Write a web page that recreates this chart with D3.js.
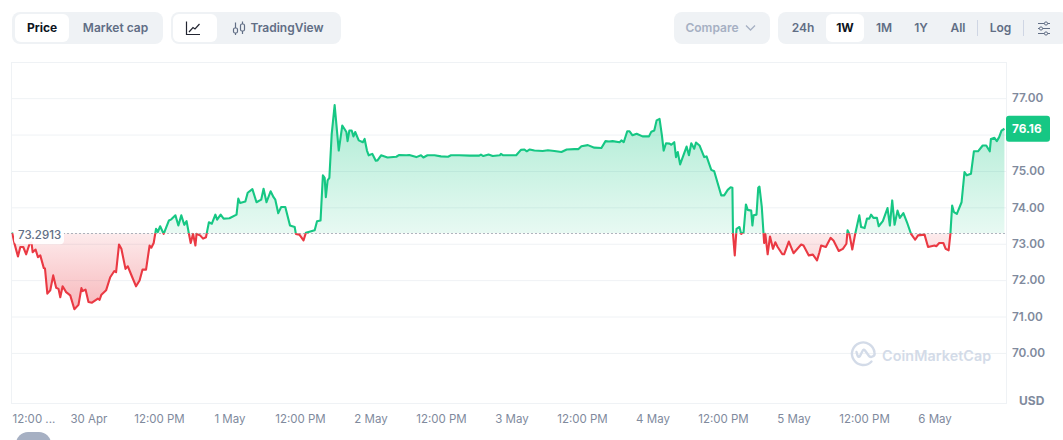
<!DOCTYPE html>
<html>
<head>
<meta charset="utf-8">
<style>
  html, body { margin: 0; padding: 0; background: #fff; overflow: hidden; }
  svg { display: block; font-family: Inter, "Noto Sans", sans-serif; }
</style>
<script src="https://cdn.jsdelivr.net/npm/d3@7/dist/d3.min.js"></script>
</head>
<body>
<script>
// Price history: hours relative to 30 Apr 00:00, and the price in USD at that hour.
const hours = [
  -13.0,-12.6,-12.0,-11.6,-11.1,-10.6,-10.0,-9.7,-9.5,-9.0,-8.6,-8.2,-7.6,-7.4,-7.0,-6.5,-6.0,-5.5,-5.1,-4.8,
  -4.4,-3.8,-3.1,-2.4,-1.7,-1.2,-1.0,-0.5,0,0.6,1.6,1.9,2.2,3.0,3.7,4.4,4.7,5.2,5.6,6.3,
  6.7,7.4,8.1,8.7,9.2,9.8,10.4,10.7,11.1,11.5,11.8,12.2,12.8,13.7,14.1,14.8,15.3,15.8,16.3,16.7,
  17.1,17.4,17.8,18.2,18.4,19.0,19.5,20.0,20.5,21.0,21.6,21.9,22.5,23.0,24.0,25.2,25.5,25.8,26.7,27.1,
  27.9,28.6,29.4,29.8,30.3,31.0,31.5,31.8,32.3,32.8,33.5,34.3,35.1,35.3,35.9,36.6,37.0,38.5,38.9,39.5,
  39.9,40.2,40.4,40.7,41.0,41.4,41.9,42.6,43.2,43.9,44.1,44.4,44.8,45.1,45.4,46.0,46.7,47.0,47.4,47.7,
  48.3,48.9,49.2,49.8,50.9,52.4,52.9,54.1,54.6,55.8,56.6,57.0,57.7,58.9,60.0,61.2,61.7,63.1,64.9,66.5,
  66.8,67.2,68.1,68.8,70.0,70.2,70.6,72.8,73.6,74.2,74.6,75.1,75.9,77.3,78.2,79.3,80.5,81.4,82.7,83.4,
  83.9,85.0,86.1,87.3,88.0,88.6,89.2,90.4,90.7,91.1,91.7,92.1,92.6,93.3,94.3,95.4,95.8,96.3,96.7,97.2,
  97.6,97.9,98.3,98.9,99.2,99.7,100.0,100.3,100.7,101.8,102.2,102.6,103.1,103.4,104.0,104.8,105.2,106.0,106.5,107.7,
  108.2,108.8,109.3,109.6,109.7,110.0,110.3,110.8,111.1,111.5,111.9,112.2,112.8,113.0,113.2,113.7,114.0,114.2,114.6,114.9,
  115.0,115.2,115.6,116.0,116.5,116.9,117.3,118.1,118.4,119.2,120.0,121.3,121.7,122.6,123.3,124.0,124.4,124.7,125.5,126.3,
  126.8,127.7,128.4,129.0,129.2,129.5,130.0,130.5,131.2,131.5,132.1,132.5,132.9,133.2,133.6,134.2,134.5,135.2,136.0,136.4,
  136.8,137.2,137.7,138.1,138.7,139.4,140.0,140.7,141.2,142.3,142.9,144.0,144.3,144.8,145.5,145.9,146.4,146.7,147.0,147.3,
  147.8,148.6,149.1,149.5,150.2,150.7,151.4,152.2,152.8,153.4,153.6,154.2,154.6,155.0,155.4,155.9
];
const prices = [
  73.31,73.01,72.65,72.91,72.91,72.71,73.01,73.04,72.77,72.84,72.63,72.68,72.33,72.32,71.63,71.72,72.13,71.79,71.76,71.53,
  71.83,71.67,71.58,71.20,71.32,71.78,71.70,71.74,71.40,71.38,71.49,71.46,71.60,71.72,72.08,72.25,72.22,72.98,72.86,72.31,
  72.38,72.10,71.83,71.99,72.29,72.29,72.95,72.89,73.02,73.41,73.32,73.48,73.27,73.64,73.67,73.78,73.50,73.78,73.52,73.62,
  73.27,73.02,73.27,72.95,73.27,73.23,73.14,73.18,73.59,73.55,73.80,73.66,73.80,73.69,73.70,73.80,74.24,74.12,74.16,74.40,
  74.50,74.14,74.21,74.51,74.14,74.44,74.28,74.21,73.84,74.01,74.01,73.50,73.46,73.27,73.25,73.09,73.30,73.37,73.62,73.64,
  74.88,74.81,74.28,74.74,74.81,76.02,76.81,75.56,76.25,76.07,75.82,76.11,76.11,75.95,76.07,75.84,75.79,75.88,75.56,75.43,
  75.47,75.28,75.29,75.43,75.37,75.39,75.44,75.43,75.44,75.38,75.43,75.37,75.43,75.43,75.40,75.39,75.43,75.43,75.42,75.42,
  75.45,75.41,75.45,75.41,75.43,75.47,75.43,75.43,75.58,75.59,75.54,75.59,75.56,75.55,75.57,75.55,75.52,75.59,75.60,75.60,
  75.68,75.71,75.64,75.63,75.82,75.81,75.82,75.79,75.84,75.79,76.09,76.09,75.98,76.02,75.95,75.95,76.08,76.11,76.39,76.43,
  75.98,75.56,75.76,75.75,75.72,75.79,75.38,75.52,75.18,75.67,75.43,75.76,75.61,75.78,75.70,75.38,75.40,75.03,74.99,74.33,
  74.33,74.48,74.55,74.54,73.27,72.68,73.41,73.46,73.27,73.32,74.08,73.93,73.91,73.50,73.78,73.80,74.54,74.57,74.01,73.27,
  73.02,73.27,72.71,73.20,72.86,73.04,72.91,72.71,72.71,73.06,72.74,72.98,72.95,72.68,72.70,72.54,72.76,72.95,72.91,73.16,
  73.09,72.80,72.86,73.00,73.37,73.27,72.84,73.27,73.78,73.46,73.43,73.69,73.69,73.80,73.71,73.71,73.48,73.62,73.98,73.50,
  74.19,73.52,73.91,73.71,73.84,73.55,73.27,73.11,73.23,73.25,72.91,72.95,72.93,73.02,73.02,72.86,72.82,73.27,74.05,73.87,
  73.82,74.14,74.97,74.88,74.92,75.54,75.54,75.70,75.70,75.54,75.88,75.91,75.82,75.93,76.11,76.16
];
const basePrice = 73.2913;
const lastPrice = 76.16;
const gridTicks = [70, 71, 72, 73, 74, 75, 76, 77];
const labelledTicks = [70, 71, 72, 73, 74, 75, 77]; // 76.00 sits behind the latest price tag
const timeTickHours = [-12, 0, 12, 24, 36, 48, 60, 72, 84, 96, 108, 120, 132, 144];
const rangeButtons = ["24h", "1W", "1M", "1Y", "All"];

const W = 1063, H = 440;
const plot = { left: 11.5, right: 1006.5, top: 62.5, bottom: 403.5 };
const GREEN = "#16c784", RED = "#ea3943";
const origin = new Date(2024, 3, 30, 0, 0, 0);
const at = h => new Date(origin.getTime() + h * 3600e3);

const x = d3.scaleTime().domain([at(-13.1), at(156.25)]).range([plot.left, plot.right]);
const y = d3.scaleLinear().domain([68.61, 77.98]).range([plot.bottom, plot.top]);
const points = hours.map((h, i) => ({ t: at(h), v: prices[i] }));

const svg = d3.select("body").append("svg").attr("width", W).attr("height", H);
const defs = svg.append("defs");

// Fills fade toward the opening price, above it in green and below it in red.
const greenGrad = defs.append("linearGradient").attr("id", "fillUp")
  .attr("gradientUnits", "userSpaceOnUse")
  .attr("x1", 0).attr("x2", 0).attr("y1", y(d3.max(prices))).attr("y2", y(basePrice));
greenGrad.append("stop").attr("offset", 0).attr("stop-color", GREEN).attr("stop-opacity", 0.36);
greenGrad.append("stop").attr("offset", 1).attr("stop-color", GREEN).attr("stop-opacity", 0.1);

const redGrad = defs.append("linearGradient").attr("id", "fillDown")
  .attr("gradientUnits", "userSpaceOnUse")
  .attr("x1", 0).attr("x2", 0).attr("y1", y(basePrice)).attr("y2", y(d3.min(prices)));
redGrad.append("stop").attr("offset", 0).attr("stop-color", RED).attr("stop-opacity", 0.1);
redGrad.append("stop").attr("offset", 1).attr("stop-color", RED).attr("stop-opacity", 0.36);

defs.append("clipPath").attr("id", "above").append("rect")
  .attr("x", plot.left).attr("y", plot.top)
  .attr("width", plot.right - plot.left).attr("height", y(basePrice) - plot.top);
defs.append("clipPath").attr("id", "below").append("rect")
  .attr("x", plot.left).attr("y", y(basePrice))
  .attr("width", plot.right - plot.left).attr("height", plot.bottom - y(basePrice));

// Frame and horizontal grid
const yAxis = d3.axisRight(y).tickValues(labelledTicks).tickFormat(d3.format(".2f"))
  .tickSize(0).tickPadding(5.5);
const grid = d3.axisLeft(y).tickValues(gridTicks).tickFormat("")
  .tickSize(plot.right - plot.left);
svg.append("g").attr("transform", `translate(${plot.right},0)`).call(grid)
  .call(g => g.select(".domain").remove())
  .call(g => g.selectAll("line").attr("stroke", "#eff2f5"));
svg.append("rect")
  .attr("x", plot.left).attr("y", plot.top)
  .attr("width", plot.right - plot.left).attr("height", plot.bottom - plot.top)
  .attr("fill", "none").attr("stroke", "#eff2f5");

// Watermark
const mark = svg.append("g").attr("fill", "none").attr("stroke", "#d3dbe8").attr("stroke-width", 2.4);
mark.append("path").attr("d", "M871.5 361.5A11.3 11.3 0 1 1 874.5 352.5A3.4 3.4 0 0 1 869 356L865 350.5Q863.5 348.5 862.5 351L860 356Q858.6 358 857.5 355.5L856.5 352")
  .attr("stroke-linecap", "round").attr("stroke-linejoin", "round");
svg.append("text").text("CoinMarketCap").attr("x", 882).attr("y", 361)
  .attr("font-size", 14.3).attr("font-weight", 600).attr("letter-spacing", 0.1).attr("fill", "#d3dbe8");

// Price area and line, split at the opening price
const area = d3.area().x(d => x(d.t)).y0(y(basePrice)).y1(d => y(d.v));
const line = d3.line().x(d => x(d.t)).y(d => y(d.v));
svg.append("path").datum(points).attr("d", area).attr("fill", "url(#fillUp)").attr("clip-path", "url(#above)");
svg.append("path").datum(points).attr("d", area).attr("fill", "url(#fillDown)").attr("clip-path", "url(#below)");
const baseLineY = Math.round(y(basePrice)) + 0.5;
svg.append("line")
  .attr("x1", plot.left).attr("x2", plot.right).attr("y1", baseLineY).attr("y2", baseLineY)
  .attr("stroke", "#616e85").attr("stroke-width", 1).attr("stroke-dasharray", "1 3");
[["above", GREEN], ["below", RED]].forEach(([clip, colour]) => {
  svg.append("path").datum(points).attr("d", line)
    .attr("fill", "none").attr("stroke", colour).attr("stroke-width", 2.1)
    .attr("stroke-linejoin", "round").attr("clip-path", `url(#${clip})`);
});

// Opening price tag
svg.append("rect").attr("x", 14).attr("y", y(basePrice) - 8).attr("width", 50).attr("height", 19)
  .attr("rx", 4).attr("fill", "#fff").attr("fill-opacity", 0.92);
svg.append("text").text(basePrice.toFixed(4)).attr("x", 18).attr("y", y(basePrice) + 6)
  .attr("font-size", 11.5).attr("font-weight", 500).attr("fill", "#616e85");

// Price axis
svg.append("g").attr("transform", `translate(${plot.right},0)`).call(yAxis)
  .call(g => g.select(".domain").remove())
  .call(g => g.selectAll("text").attr("font-family", "Inter, sans-serif").attr("font-size", 11.8)
    .attr("font-weight", 600).attr("fill", "#808a9d"));
svg.append("text").text("USD").attr("x", 1019).attr("y", 405)
  .attr("font-size", 12).attr("font-weight", 700).attr("fill", "#808a9d");

// Latest price tag
svg.append("rect").attr("x", 1006).attr("y", y(lastPrice) - 13).attr("width", 44).attr("height", 26)
  .attr("rx", 3).attr("fill", GREEN);
svg.append("text").text(lastPrice.toFixed(2)).attr("x", 1012).attr("y", y(lastPrice) + 4.5)
  .attr("font-size", 11.8).attr("font-weight", 700).attr("fill", "#fff");

// Time axis
const fmtDay = d3.timeFormat("%-d %b"), fmtHour = d3.timeFormat("%-I:%M %p");
const xAxis = d3.axisBottom(x).tickValues(timeTickHours.map(at))
  .tickFormat((d, i) => i === 0 ? "12:00 ..." : (d.getHours() === 0 ? fmtDay(d) : fmtHour(d)))
  .tickSize(0).tickPadding(11);
svg.append("g").attr("transform", `translate(0,${plot.bottom})`).call(xAxis)
  .call(g => g.select(".domain").remove())
  .call(g => g.selectAll("text").attr("font-family", "Inter, sans-serif").attr("font-size", 11.5)
    .attr("font-weight", 400).attr("fill", "#808a9d"))
  .call(g => g.select(".tick text").attr("dx", 15.5));

// Toolbar
function panel(px, py, w, h, fill, r) {
  return svg.append("rect").attr("x", px).attr("y", py).attr("width", w).attr("height", h)
    .attr("rx", r).attr("fill", fill);
}
function label(str, cx, colour, weight) {
  return svg.append("text").text(str).attr("x", cx).attr("y", 32).attr("text-anchor", "middle")
    .attr("font-size", 12).attr("font-weight", weight || 600).attr("fill", colour);
}
const PANEL = "#eff2f5", INK = "#0d1421", MUTED = "#616e85";

panel(12, 12, 151, 32, PANEL, 8);
panel(15, 14, 54, 28, "#fff", 6);
label("Price", 42, INK, 700);
label("Market cap", 115.5, MUTED);

panel(171, 12, 170, 32, PANEL, 8);
panel(173, 14, 44, 28, "#fff", 6);
svg.append("path").attr("d", "M186.5 21.5V34.5H200M189 32L193 27.5L195 29L199.5 24")
  .attr("fill", "none").attr("stroke", "#222531").attr("stroke-width", 1.2);
const candle = svg.append("g").attr("fill", "none").attr("stroke", MUTED).attr("stroke-width", 1.2);
candle.append("path").attr("d", "M235.5 22.5V35M242.5 21.5V34");
candle.append("rect").attr("x", 233.5).attr("y", 28).attr("width", 4).attr("height", 5).attr("rx", 1.5).attr("fill", PANEL);
candle.append("rect").attr("x", 240.5).attr("y", 24).attr("width", 4).attr("height", 7).attr("rx", 1.5).attr("fill", PANEL);
label("TradingView", 287, MUTED);

panel(674, 12, 96, 32, PANEL, 8);
label("Compare", 712, "#a6b0c3");
svg.append("path").attr("d", "M746 25.5L750.5 30L755 25.5").attr("fill", "none")
  .attr("stroke", "#a6b0c3").attr("stroke-width", 1.3);

panel(778, 12, 290, 32, PANEL, 8);
panel(826, 14, 38, 28, "#fff", 6);
const rangeCentres = [803, 845, 884, 921, 958];
rangeButtons.forEach((s, i) => label(s, rangeCentres[i], s === "1W" ? INK : MUTED, s === "1W" ? 700 : 600));
label("Log", 1000.5, MUTED);
[977.5, 1023.5].forEach(sx => svg.append("line").attr("x1", sx).attr("x2", sx).attr("y1", 20).attr("y2", 36)
  .attr("stroke", "#cfd6e4").attr("stroke-width", 1));
const knobs = svg.append("g").attr("stroke", MUTED).attr("stroke-width", 1).attr("fill", PANEL);
[[23.5, 1046], [28.5, 1041], [33.5, 1046]].forEach(([ky, kx]) => {
  knobs.append("line").attr("x1", 1038).attr("x2", 1050).attr("y1", ky).attr("y2", ky);
  knobs.append("circle").attr("cx", kx).attr("cy", ky).attr("r", 1.6);
});

// Pill along the bottom edge
svg.append("rect").attr("x", 16).attr("y", 432).attr("width", 35).attr("height", 24).attr("rx", 12).attr("fill", "#a6b0c3");
</script>
</body>
</html>
